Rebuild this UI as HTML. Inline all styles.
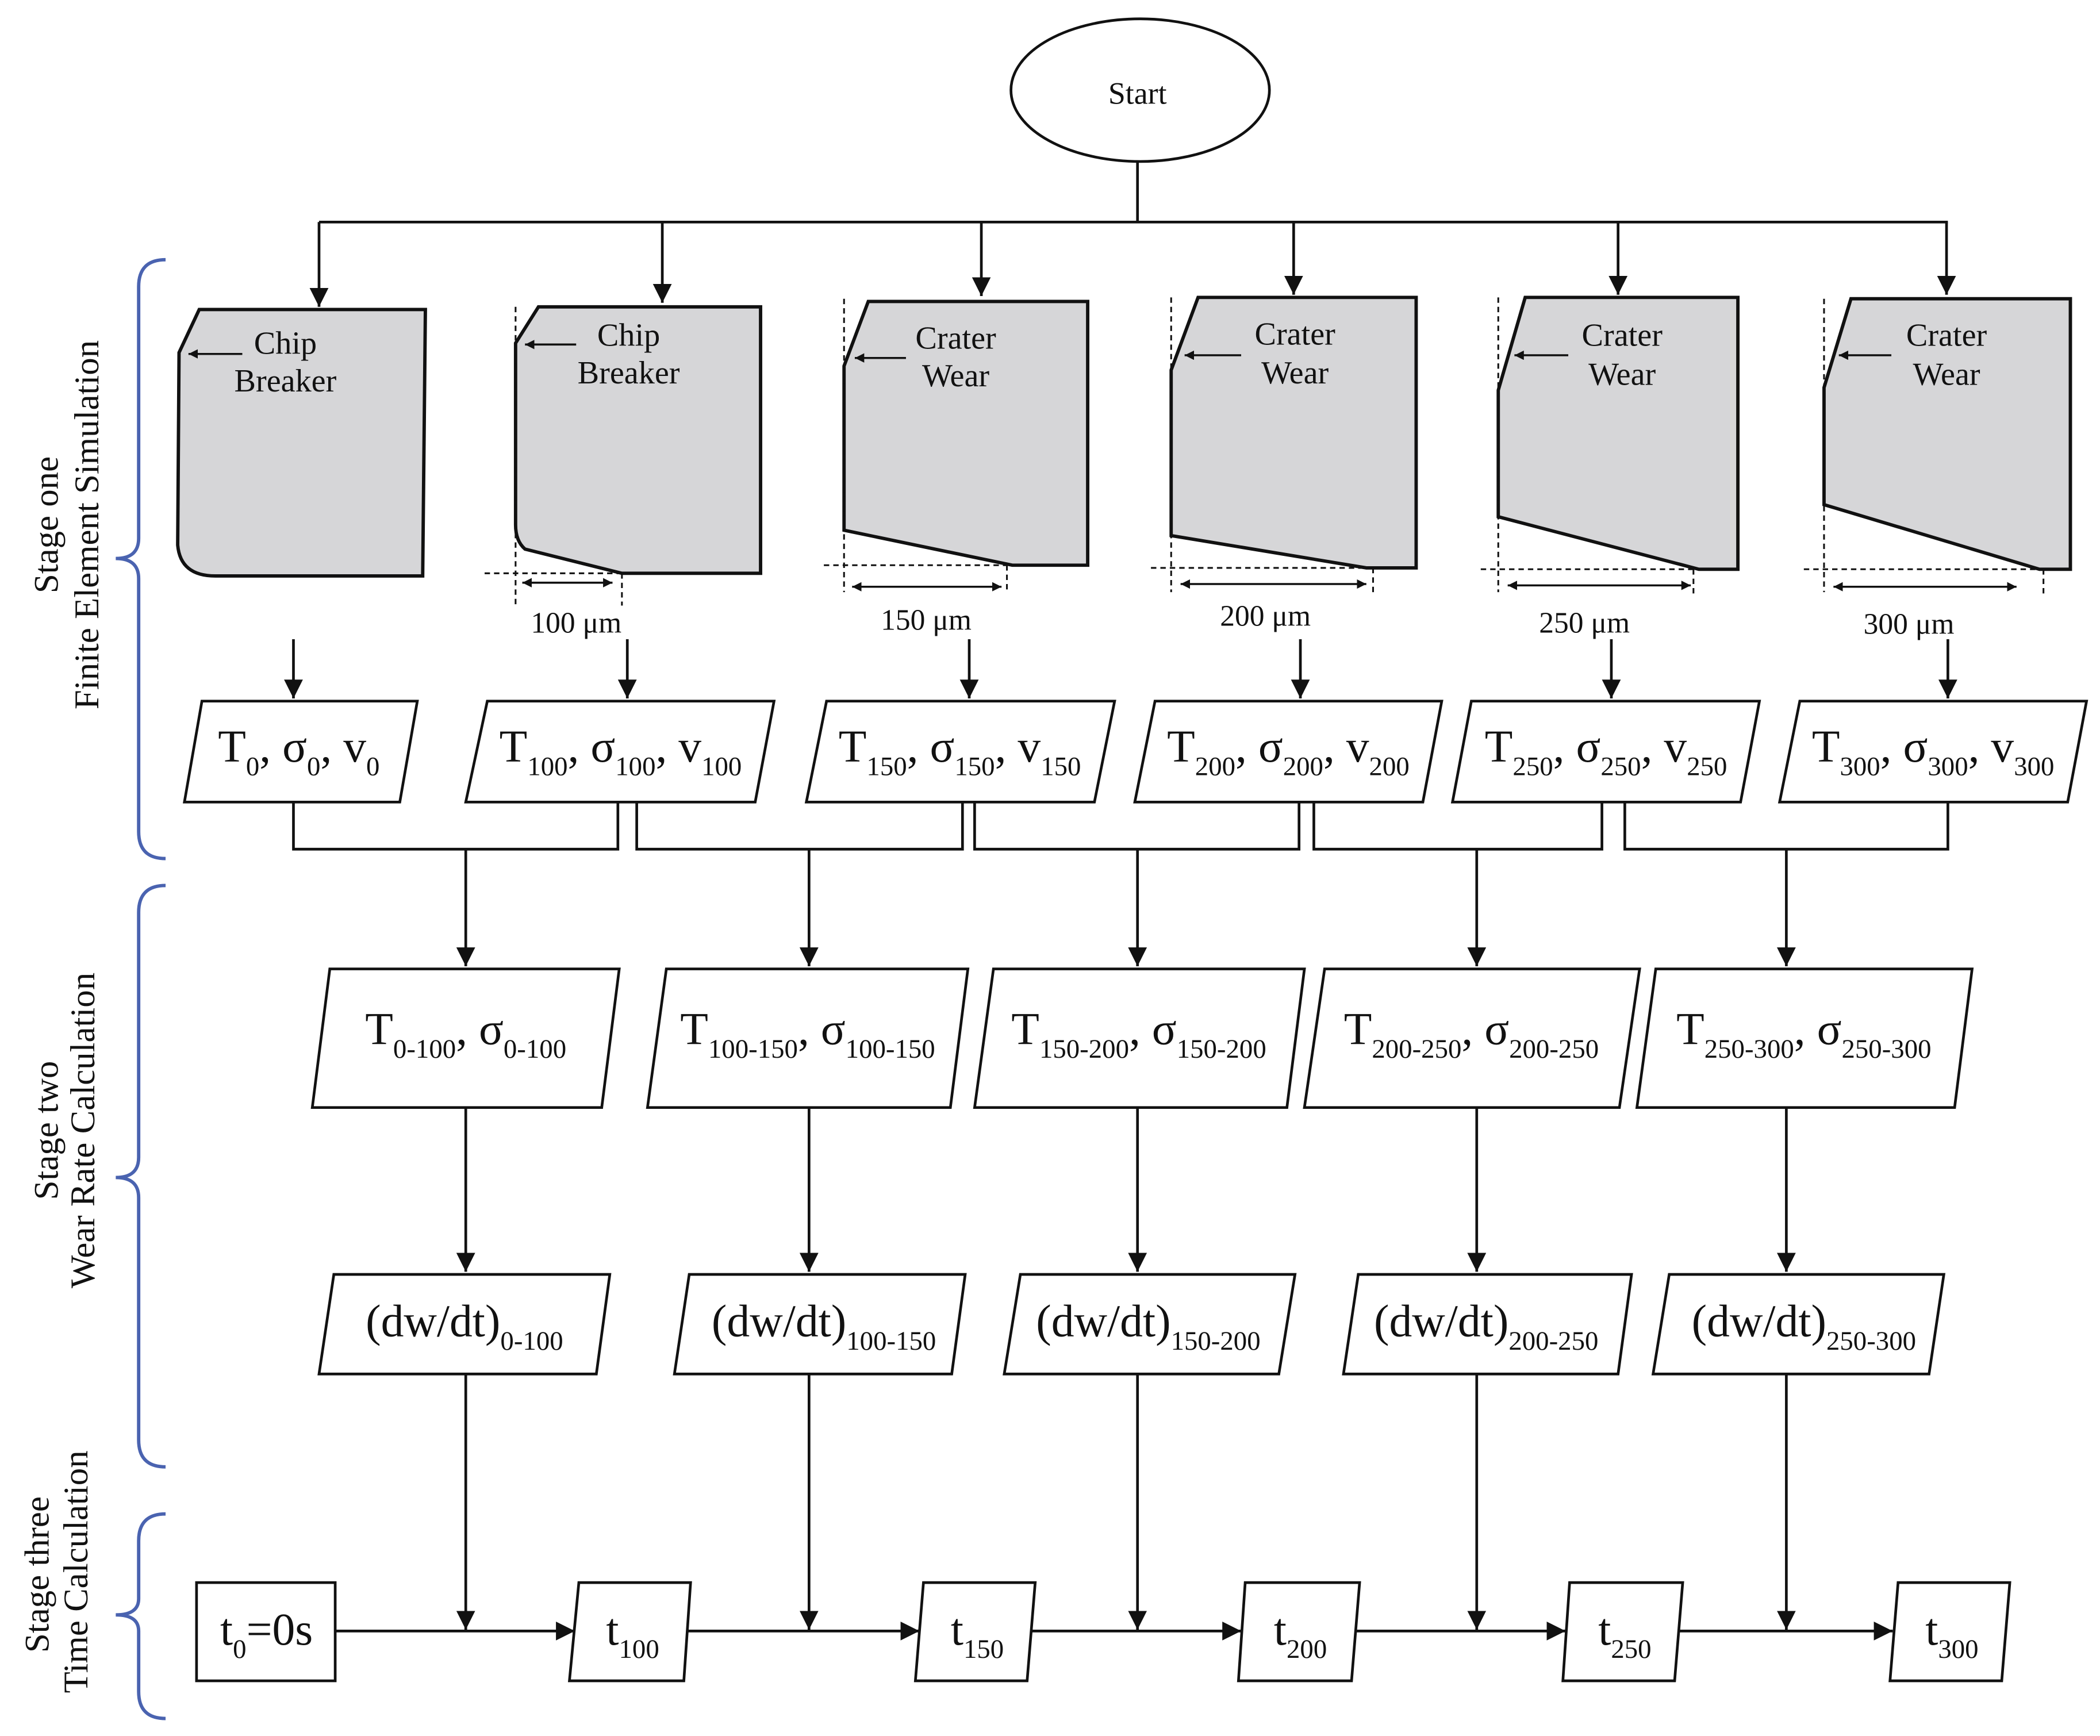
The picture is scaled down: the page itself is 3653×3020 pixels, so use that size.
<!DOCTYPE html>
<html><head><meta charset="utf-8"><style>
html,body{margin:0;padding:0;background:#fff}
svg{display:block}
text{font-family:"Liberation Serif",serif;fill:#111}
</style></head><body>
<svg width="3653" height="3020" viewBox="0 0 1560 1290" preserveAspectRatio="none" xmlns="http://www.w3.org/2000/svg">
<defs>
<marker id="a" viewBox="0 0 10 10" refX="10" refY="5" markerWidth="7" markerHeight="7" orient="auto-start-reverse" markerUnits="userSpaceOnUse"><path d="M0,0 L10,5 L0,10 z" fill="#111"/></marker>
<marker id="b" viewBox="0 0 10 10" refX="10" refY="5" markerWidth="14" markerHeight="14" orient="auto-start-reverse" markerUnits="userSpaceOnUse"><path d="M0,0 L10,5 L0,10 z" fill="#111"/></marker>
</defs>
<rect width="1560" height="1290" fill="#fff"/>
<g stroke="#111" stroke-width="2" fill="none">
<ellipse cx="847" cy="67" rx="96" ry="53" fill="#fff"/>
<path d="M845,120 V165 M237,165 H1447"/>
<g marker-end="url(#b)">
<line x1="237" y1="165" x2="237" y2="228"/>
<line x1="492" y1="165" x2="492" y2="225"/>
<line x1="729" y1="165" x2="729" y2="220"/>
<line x1="961" y1="165" x2="961" y2="219"/>
<line x1="1202" y1="165" x2="1202" y2="219"/>
<line x1="1446" y1="165" x2="1446" y2="219"/>
</g>
<g fill="#d6d6d8" stroke-width="2.5">
<path d="M148,230 H316 L314,428 H160 Q134,428 132,405 L133,262 Z"/>
<path d="M400,228 H565 V426 H462 L390,408 Q383,402 383,390 V255 Z"/>
<path d="M645,224 H808 V420 H752 L627,394 V272 Z"/>
<path d="M890,221 H1052 V422 H1015 L870,398 V275 Z"/>
<path d="M1133,221 H1291 V423 H1262 L1113,384 V290 Z"/>
<path d="M1375,222 H1538 V423 H1515 L1355,375 V288 Z"/>
</g>
<g stroke-width="1.3" stroke-dasharray="4,3">
<path d="M383,228 V450 M360,426 H462 M462,426 V450"/>
<path d="M627,222 V440 M612,420 H748 M748,420 V440"/>
<path d="M870,221 V440 M855,422 H1020 M1020,422 V442"/>
<path d="M1113,221 V440 M1100,423 H1258 M1258,423 V442"/>
<path d="M1355,222 V440 M1340,423 H1518 M1518,423 V442"/>
</g>
<g stroke-width="1.5">
<line x1="388" y1="433" x2="455" y2="433" marker-start="url(#a)" marker-end="url(#a)"/>
<line x1="633" y1="436" x2="744" y2="436" marker-start="url(#a)" marker-end="url(#a)"/>
<line x1="877" y1="434" x2="1015" y2="434" marker-start="url(#a)" marker-end="url(#a)"/>
<line x1="1120" y1="435" x2="1256" y2="435" marker-start="url(#a)" marker-end="url(#a)"/>
<line x1="1362" y1="436" x2="1498" y2="436" marker-start="url(#a)" marker-end="url(#a)"/>
<g marker-end="url(#a)">
<line x1="180" y1="263" x2="140" y2="263"/>
<line x1="428" y1="256" x2="390" y2="256"/>
<line x1="673" y1="266" x2="635" y2="266"/>
<line x1="922" y1="264" x2="880" y2="264"/>
<line x1="1165" y1="264" x2="1125" y2="264"/>
<line x1="1405" y1="264" x2="1366" y2="264"/>
</g>
</g>
<g marker-end="url(#b)">
<line x1="218" y1="475" x2="218" y2="519"/>
<line x1="466" y1="475" x2="466" y2="519"/>
<line x1="720" y1="475" x2="720" y2="519"/>
<line x1="966" y1="475" x2="966" y2="519"/>
<line x1="1197" y1="475" x2="1197" y2="519"/>
<line x1="1447" y1="475" x2="1447" y2="519"/>
</g>
<g fill="#fff">
<path d="M150,521 H310 L297,596 H137 Z"/>
<path d="M362,521 H575 L561,596 H346 Z"/>
<path d="M614,521 H828 L813,596 H599 Z"/>
<path d="M858,521 H1071 L1057,596 H843 Z"/>
<path d="M1093,521 H1307 L1293,596 H1079 Z"/>
<path d="M1337,521 H1550 L1536,596 H1322 Z"/>
</g>
<path d="M218,596 V631 H459 V596 M473,596 V631 H715 V596 M724,596 V631 H965 V596 M976,596 V631 H1190 V596 M1207,596 V631 H1447 V596"/>
<g marker-end="url(#b)">
<line x1="346" y1="631" x2="346" y2="718"/>
<line x1="601" y1="631" x2="601" y2="718"/>
<line x1="845" y1="631" x2="845" y2="718"/>
<line x1="1097" y1="631" x2="1097" y2="718"/>
<line x1="1327" y1="631" x2="1327" y2="718"/>
</g>
<g fill="#fff">
<path d="M245,720 H460 L447,823 H232 Z"/>
<path d="M495,720 H719 L706,823 H481 Z"/>
<path d="M738,720 H969 L956,823 H724 Z"/>
<path d="M984,720 H1218 L1203,823 H969 Z"/>
<path d="M1230,720 H1465 L1452,823 H1216 Z"/>
</g>
<g marker-end="url(#b)">
<line x1="346" y1="823" x2="346" y2="945"/>
<line x1="601" y1="823" x2="601" y2="945"/>
<line x1="845" y1="823" x2="845" y2="945"/>
<line x1="1097" y1="823" x2="1097" y2="945"/>
<line x1="1327" y1="823" x2="1327" y2="945"/>
</g>
<g fill="#fff">
<path d="M248,947 H453 L443,1021 H237 Z"/>
<path d="M512,947 H717 L707,1021 H501 Z"/>
<path d="M758,947 H962 L950,1021 H746 Z"/>
<path d="M1009,947 H1212 L1202,1021 H998 Z"/>
<path d="M1240,947 H1444 L1433,1021 H1228 Z"/>
</g>
<g marker-end="url(#b)">
<line x1="346" y1="1021" x2="346" y2="1211"/>
<line x1="601" y1="1021" x2="601" y2="1211"/>
<line x1="845" y1="1021" x2="845" y2="1211"/>
<line x1="1097" y1="1021" x2="1097" y2="1211"/>
<line x1="1327" y1="1021" x2="1327" y2="1211"/>
<line x1="249" y1="1212" x2="427" y2="1212"/>
<line x1="511" y1="1212" x2="683" y2="1212"/>
<line x1="766" y1="1212" x2="922" y2="1212"/>
<line x1="1007" y1="1212" x2="1163" y2="1212"/>
<line x1="1247" y1="1212" x2="1406" y2="1212"/>
</g>
<g fill="#fff">
<rect x="146" y="1176" width="103" height="73"/>
<path d="M430,1176 H513 L508,1249 H423 Z"/>
<path d="M686,1176 H769 L763,1249 H680 Z"/>
<path d="M925,1176 H1010 L1004,1249 H920 Z"/>
<path d="M1166,1176 H1250 L1244,1249 H1161 Z"/>
<path d="M1410,1176 H1493 L1487,1249 H1404 Z"/>
</g>
</g>
<g stroke="#4a63b0" stroke-width="2.5" fill="none">
<path d="M123,193 Q103,193 103,213 V400 Q103,415 86,415 Q103,415 103,430 V618 Q103,638 123,638"/>
<path d="M123,658 Q103,658 103,678 V860 Q103,875 86,875 Q103,875 103,890 V1070 Q103,1090 123,1090"/>
<path d="M123,1125 Q103,1125 103,1145 V1188 Q103,1200 86,1200 Q103,1200 103,1212 V1257 Q103,1277 123,1277"/>
</g>
<g font-size="26" text-anchor="middle">
<text transform="translate(43,390) rotate(-90)">Stage one</text>
<text transform="translate(73,390) rotate(-90)">Finite Element Simulation</text>
<text transform="translate(43,840) rotate(-90)">Stage two</text>
<text transform="translate(70,840) rotate(-90)">Wear Rate Calculation</text>
<text transform="translate(36,1170) rotate(-90)">Stage three</text>
<text transform="translate(65,1168) rotate(-90)">Time Calculation</text>
</g>
<g font-size="24" text-anchor="middle">
<text x="845" y="77" font-size="23">Start</text>
<text x="212" y="263">Chip</text><text x="212" y="291">Breaker</text>
<text x="467" y="257">Chip</text><text x="467" y="285">Breaker</text>
<text x="710" y="259">Crater</text><text x="710" y="287">Wear</text>
<text x="962" y="256">Crater</text><text x="962" y="285">Wear</text>
<text x="1205" y="257">Crater</text><text x="1205" y="286">Wear</text>
<text x="1446" y="257">Crater</text><text x="1446" y="286">Wear</text>
<text x="428" y="470" font-size="22">100 μm</text>
<text x="688" y="468" font-size="22">150 μm</text>
<text x="940" y="465" font-size="22">200 μm</text>
<text x="1177" y="470" font-size="22">250 μm</text>
<text x="1418" y="471" font-size="22">300 μm</text>
</g>
<g font-size="34" text-anchor="middle">
<text x="222" y="566">T<tspan font-size="20" dy="10">0</tspan><tspan dy="-10">, σ</tspan><tspan font-size="20" dy="10">0</tspan><tspan dy="-10">, v</tspan><tspan font-size="20" dy="10">0</tspan></text>
<text x="461" y="566">T<tspan font-size="20" dy="10">100</tspan><tspan dy="-10">, σ</tspan><tspan font-size="20" dy="10">100</tspan><tspan dy="-10">, v</tspan><tspan font-size="20" dy="10">100</tspan></text>
<text x="713" y="566">T<tspan font-size="20" dy="10">150</tspan><tspan dy="-10">, σ</tspan><tspan font-size="20" dy="10">150</tspan><tspan dy="-10">, v</tspan><tspan font-size="20" dy="10">150</tspan></text>
<text x="957" y="566">T<tspan font-size="20" dy="10">200</tspan><tspan dy="-10">, σ</tspan><tspan font-size="20" dy="10">200</tspan><tspan dy="-10">, v</tspan><tspan font-size="20" dy="10">200</tspan></text>
<text x="1193" y="566">T<tspan font-size="20" dy="10">250</tspan><tspan dy="-10">, σ</tspan><tspan font-size="20" dy="10">250</tspan><tspan dy="-10">, v</tspan><tspan font-size="20" dy="10">250</tspan></text>
<text x="1436" y="566">T<tspan font-size="20" dy="10">300</tspan><tspan dy="-10">, σ</tspan><tspan font-size="20" dy="10">300</tspan><tspan dy="-10">, v</tspan><tspan font-size="20" dy="10">300</tspan></text>
<text x="346" y="776">T<tspan font-size="20" dy="10">0-100</tspan><tspan dy="-10">, σ</tspan><tspan font-size="20" dy="10">0-100</tspan></text>
<text x="600" y="776">T<tspan font-size="20" dy="10">100-150</tspan><tspan dy="-10">, σ</tspan><tspan font-size="20" dy="10">100-150</tspan></text>
<text x="846" y="776">T<tspan font-size="20" dy="10">150-200</tspan><tspan dy="-10">, σ</tspan><tspan font-size="20" dy="10">150-200</tspan></text>
<text x="1093" y="776">T<tspan font-size="20" dy="10">200-250</tspan><tspan dy="-10">, σ</tspan><tspan font-size="20" dy="10">200-250</tspan></text>
<text x="1340" y="776">T<tspan font-size="20" dy="10">250-300</tspan><tspan dy="-10">, σ</tspan><tspan font-size="20" dy="10">250-300</tspan></text>
<text x="345" y="993">(dw/dt)<tspan font-size="20" dy="10">0-100</tspan></text>
<text x="612" y="993">(dw/dt)<tspan font-size="20" dy="10">100-150</tspan></text>
<text x="853" y="993">(dw/dt)<tspan font-size="20" dy="10">150-200</tspan></text>
<text x="1104" y="993">(dw/dt)<tspan font-size="20" dy="10">200-250</tspan></text>
<text x="1340" y="993">(dw/dt)<tspan font-size="20" dy="10">250-300</tspan></text>
<text x="198" y="1222">t<tspan font-size="20" dy="10">0</tspan><tspan dy="-10">=0s</tspan></text>
<text x="470" y="1222">t<tspan font-size="20" dy="10">100</tspan></text>
<text x="726" y="1222">t<tspan font-size="20" dy="10">150</tspan></text>
<text x="966" y="1222">t<tspan font-size="20" dy="10">200</tspan></text>
<text x="1207" y="1222">t<tspan font-size="20" dy="10">250</tspan></text>
<text x="1450" y="1222">t<tspan font-size="20" dy="10">300</tspan></text>
</g>
</svg>
</body></html>
